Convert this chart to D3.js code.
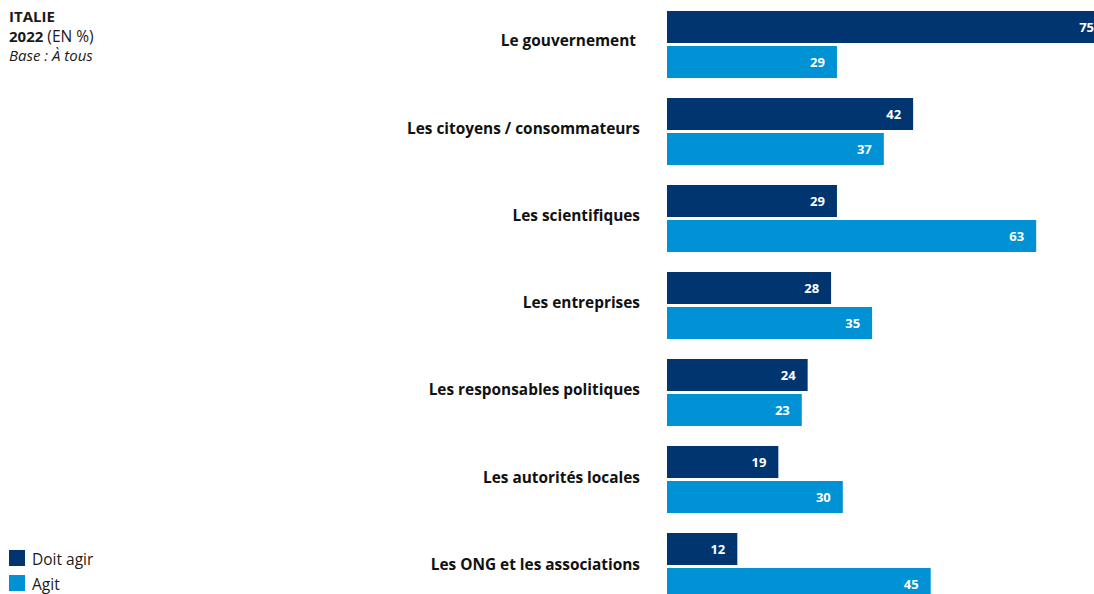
<!DOCTYPE html>
<html><head><meta charset="utf-8">
<script src="https://cdn.jsdelivr.net/npm/d3@7"></script>
<style>
body{margin:0;background:#fff;overflow:hidden}
svg{display:block;font-family:"Open Sans",sans-serif}
</style></head>
<body>
<svg id="c" width="1094" height="594"></svg>
<script>
const categories = ["Le gouvernement ", "Les citoyens / consommateurs", "Les scientifiques", "Les entreprises", "Les responsables politiques", "Les autorités locales", "Les ONG et les associations"];
const doitAgir = [75, 42, 29, 28, 24, 19, 12];
const agit = [29, 37, 63, 35, 23, 30, 45];
const seriesNames = ["Doit agir", "Agit"];
const colors = ["#01356F", "#0092D4"];

const svg = d3.select("#c");
const x0 = 667;
const x = d3.scaleLinear().domain([0, 100]).range([x0, x0 + 586]);
const y = d3.scaleBand().domain(categories).range([11, 11 + 87 * 7]).paddingInner(0).paddingOuter(0);
const barH = 32, gap = 3;
const W = 1094;

categories.forEach((c, i) => {
  const g = svg.append("g");
  const top = y(c);
  [doitAgir[i], agit[i]].forEach((v, s) => {
    const yy = top + s * (barH + gap);
    g.append("rect").attr("x", x(0)).attr("y", yy)
      .attr("width", x(v) - x(0)).attr("height", barH).attr("fill", colors[s]);
    g.append("text").attr("x", Math.min(x(v), W + 12) - 12).attr("y", yy + barH / 2)
      .attr("dy", "0.35em").attr("text-anchor", "end")
      .attr("fill", "#fff").attr("font-weight", 700).attr("font-size", 13).text(v);
  });
  svg.append("text").attr("x", 640).attr("y", top + barH + gap / 2 - 3.5 + i * 0.25)
    .attr("dy", "0.35em").attr("text-anchor", "end")
    .style("white-space", "pre")
    .attr("fill", "#111").attr("font-weight", 700).attr("font-size", 15.4).text(c);
});

// title
const t = svg.append("g").attr("fill", "#1a1a1a").attr("font-size", 15);
t.append("text").attr("x", 9).attr("y", 22).attr("font-weight", 700).text("ITALIE");
const t2 = t.append("text").attr("x", 9).attr("y", 42);
t2.append("tspan").attr("font-weight", 700).text("2022");
t2.append("tspan").attr("font-size", 15.5).text(" (EN %)");
t.append("text").attr("x", 9).attr("y", 61).attr("font-style", "italic").text("Base : À tous");

// legend
seriesNames.forEach((n, i) => {
  const ly = 550 + i * 25;
  svg.append("rect").attr("x", 9).attr("y", ly).attr("width", 16).attr("height", 16).attr("fill", colors[i]);
  svg.append("text").attr("x", 32).attr("y", ly + 10).attr("dy", "0.35em")
    .attr("font-size", 15.5).attr("fill", "#1a1a1a").text(n);
});
</script>
</body></html>
